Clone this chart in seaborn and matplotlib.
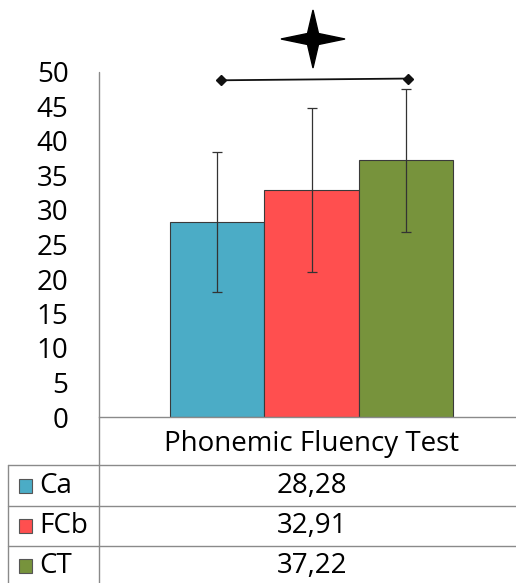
import matplotlib
matplotlib.use("Agg")
import matplotlib.pyplot as plt
from matplotlib.patches import Polygon, Rectangle
import seaborn as sns
import pandas as pd

# Group means and standard deviations for the phonemic fluency score
groups = ["Ca", "FCb", "CT"]
means = [28.28, 32.91, 37.22]
sds = [10.15, 11.9, 10.35]
test_name = "Phonemic Fluency Test"
colors = ["#4BACC6", "#FF4F4F", "#77933C"]
y_ticks = [0, 5, 10, 15, 20, 25, 30, 35, 40, 45, 50]

sns.set_theme(style="white")
plt.rcParams["font.family"] = ["Open Sans", "DejaVu Sans"]

W, H = 516, 583
FS = 20
TXT = "#000000"
fig = plt.figure(figsize=(W / 100, H / 100), dpi=100)

# main plotting area (pixel frame converted to figure fractions)
ax = fig.add_axes([99 / W, (H - 417) / H, (W - 99) / W, (417 - 72) / H])
ax.patch.set_alpha(0)

df = pd.DataFrame({"test": [test_name] * len(groups), "group": groups, "score": means})
sns.barplot(data=df, x="test", y="score", hue="group", palette=colors,
            saturation=1, width=0.68, edgecolor="#3a3a3a", linewidth=0.8,
            legend=False, errorbar=None, ax=ax)

# error bars at the centre of each bar
bars = [p for p in ax.patches if p.get_height() > 0]
centres = []
for bar, m, s in zip(bars, means, sds):
    cx = bar.get_x() + bar.get_width() / 2
    centres.append(cx)
    ax.errorbar(cx, m, yerr=s, fmt="none", ecolor="#333333", elinewidth=0.9,
                capsize=3.5, capthick=0.9, zorder=5)

# significance bracket between Ca and CT
ax.plot([centres[0] + 0.01, centres[2] + 0.004], [48.8, 49.05], color="#111111",
        lw=1.3, marker="D", markersize=5, clip_on=False, zorder=6)

ax.set_ylim(0, 50)
ax.set_xlim(-0.51, 0.49)
ax.set_yticks(y_ticks)
ax.tick_params(axis="y", length=0, pad=22, labelsize=FS, labelcolor=TXT)
ax.tick_params(axis="x", length=0, pad=9, labelsize=FS, labelcolor=TXT)
ax.set_xlabel("")
ax.set_ylabel("")
for side in ["top", "right", "left"]:
    ax.spines[side].set_visible(False)
ax.spines["bottom"].set_color("#8a8a8a")
ax.spines["bottom"].set_linewidth(1.0)

# overlay in pixel coordinates for the data table and the star
ov = fig.add_axes([0, 0, 1, 1], zorder=-1)
ov.set_xlim(0, W)
ov.set_ylim(H, 0)
ov.axis("off")

line_kw = dict(color="#8a8a8a", lw=1.0)
ov.plot([99, 99], [72, H], **line_kw)
ov.plot([8, 8], [465, H], **line_kw)
for yy in [465, 506, 546]:
    ov.plot([8, W], [yy, yy], **line_kw)

row_centres = [486, 526, 566]
for g, m, c, yy in zip(groups, means, colors, row_centres):
    ov.add_patch(Rectangle((19, yy - 7), 13, 14, facecolor=c, edgecolor="#555555", lw=0.8))
    ov.text(39, yy, g, fontsize=FS, va="center", ha="left", color=TXT)
    ov.text(312, yy, f"{m:.2f}".replace(".", ","), fontsize=FS, va="center",
            ha="center", color=TXT)

# four-pointed star above the bracket
cx, cy, rx, ry, r_in = 313, 39, 32, 29, 5.5
star = [(cx, cy - ry), (cx + r_in, cy - r_in), (cx + rx, cy), (cx + r_in, cy + r_in),
        (cx, cy + ry), (cx - r_in, cy + r_in), (cx - rx, cy), (cx - r_in, cy - r_in)]
ov.add_patch(Polygon(star, closed=True, facecolor="black", edgecolor="black"))

fig.savefig("out.png", dpi=100)
